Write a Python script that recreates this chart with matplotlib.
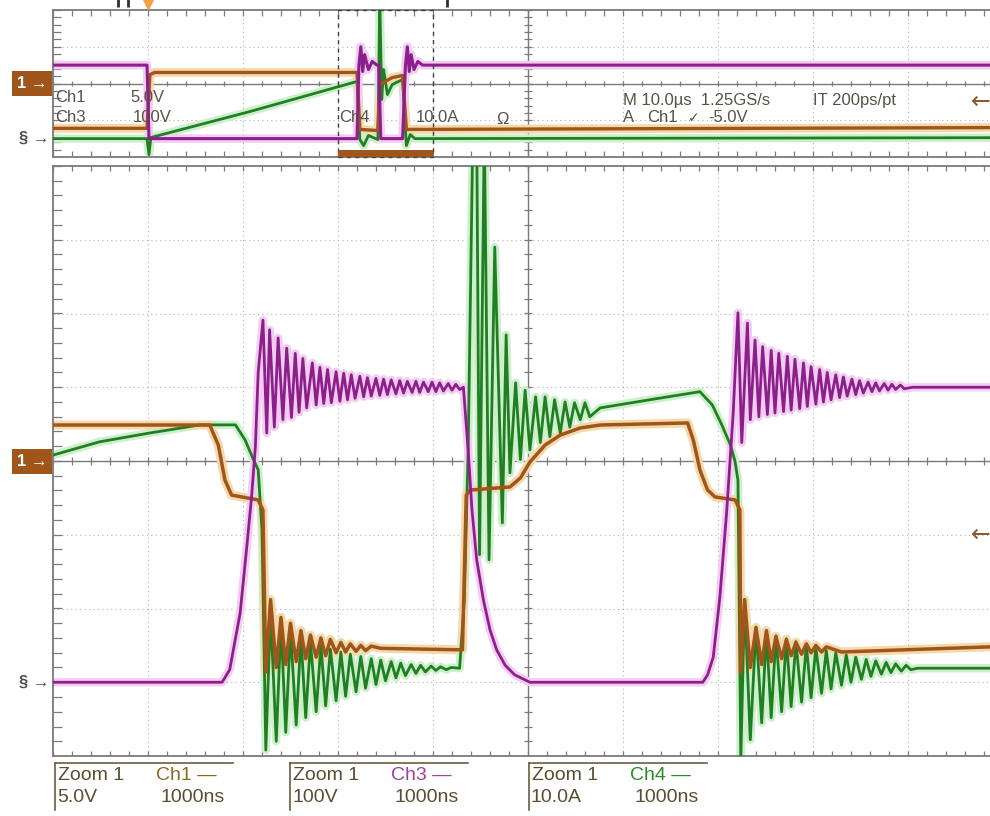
import matplotlib
matplotlib.use("Agg")
import matplotlib.pyplot as plt
import matplotlib.transforms as mtransforms
from matplotlib.lines import Line2D
from matplotlib.patches import Rectangle
import numpy as np

plt.rcParams['font.family'] = ['Liberation Sans', 'DejaVu Sans']

# scope settings
ch1_vdiv, ch3_vdiv, ch4_adiv = 5.0, 100.0, 10.0   # per division
ch1_gnd, ch3_gnd, ch4_gnd = 0.0, -3.0, -3.0       # ground marker (div)
trig_level = -5.0                                 # V on Ch1
trig_time = 10.0                                  # us, overview
zoom_from, zoom_to = 30.0, 40.0                   # us, zoomed span
main_tdiv, ov_tdiv = 1.0, 10.0                    # us/div
top_marks_t = [6.8, 7.9, 41.5]                    # small cursor marks above overview

# ---- zoom window, time in us ----
# Ch1 gate (V)
ch1_t = [0.00, 1.65, 1.74, 1.81, 1.88, 2.16, 2.21,
         2.24, 2.29, 2.35, 2.40, 2.45, 2.50, 2.56, 2.61, 2.66, 2.71, 2.77, 2.82,
         2.87, 2.92, 2.98, 3.03, 3.08, 3.13, 3.19, 3.24, 3.29, 3.35, 3.45,
         4.28, 4.31, 4.35, 4.39, 4.81, 4.92, 5.02, 5.18, 5.34, 5.55, 5.76, 6.68,
         6.74, 6.81, 6.89, 6.97, 7.18, 7.23,
         7.24, 7.28, 7.34, 7.40, 7.46, 7.51, 7.56, 7.61, 7.67, 7.72, 7.77, 7.82,
         7.88, 7.93, 7.98, 8.03, 8.09, 8.14, 8.30, 9.86]
ch1_v = [2.44, 2.44, 1.08, -1.29, -2.31, -2.64, -3.32,
         -14.3, -9.4, -14.0, -10.6, -13.8, -11.0, -13.6, -11.5, -13.4, -11.8, -13.3, -12.0,
         -13.2, -12.1, -13.0, -12.3, -12.95, -12.4, -12.9, -12.5, -12.85, -12.55, -12.7,
         -12.8, -12.8, -2.3, -1.97, -1.76, -1.15, -0.07, 1.08, 1.76, 2.24, 2.44, 2.58,
         1.42, -0.61, -1.97, -2.44, -2.64, -3.32,
         -14.3, -9.4, -14.0, -11.3, -13.8, -11.5, -13.6, -11.9, -13.4, -12.1, -13.2, -12.3,
         -13.1, -12.4, -13.0, -12.5, -12.95, -12.6, -12.95, -12.6]

# Ch3 drain voltage (V)
ch3_t = [0.00, 1.78, 1.86, 1.97, 2.04, 2.09, 2.13, 2.16,
         2.21, 2.25, 2.28, 2.33, 2.37, 2.42, 2.46, 2.51, 2.55, 2.59, 2.63, 2.67,
         2.73, 2.77, 2.81, 2.85, 2.89, 2.93, 2.98, 3.02, 3.06, 3.10, 3.14, 3.18,
         3.23, 3.27, 3.31, 3.35, 3.40, 3.44, 3.48, 3.52, 3.56, 3.61, 3.65, 3.69,
         3.73, 3.78, 3.82, 3.86, 3.90, 3.95, 3.99, 4.03, 4.07, 4.11, 4.16, 4.20,
         4.24, 4.28,
         4.32, 4.37, 4.41, 4.46, 4.53, 4.60, 4.67, 4.76, 4.86, 5.02, 6.84, 6.89,
         6.95, 7.02, 7.09, 7.16, 7.21,
         7.25, 7.31, 7.34, 7.39, 7.43, 7.47, 7.52, 7.56, 7.60, 7.64, 7.69, 7.73,
         7.77, 7.81, 7.86, 7.90, 7.94, 7.98, 8.03, 8.07, 8.11, 8.15, 8.19, 8.24,
         8.28, 8.32, 8.36, 8.41, 8.45, 8.49, 8.53, 8.58, 8.62, 8.66, 8.70, 8.75,
         8.79, 8.83, 8.87, 8.92, 8.96, 9.05, 9.86]
ch3_v = [0, 0, 17, 94, 184, 251, 319, 420,
         491, 338, 478, 346, 467, 356, 453, 359, 446, 366, 439, 372,
         433, 376, 427, 378, 424, 379, 421, 381, 419, 383, 417, 385,
         415, 387, 413, 388, 412, 389, 411, 390, 410, 391, 409, 392,
         408, 393, 408, 393, 407, 394, 407, 394, 406, 395, 405, 396,
         404, 397,
         400, 315, 234, 166, 112, 71, 44, 23, 10, 0, 0, 10,
         34, 116, 229, 365, 501,
         325, 487, 356, 464, 360, 455, 363, 450, 365, 446, 367, 442,
         369, 438, 371, 433, 374, 428, 377, 424, 380, 420, 383, 417,
         386, 414, 388, 411, 390, 409, 392, 407, 394, 406, 395, 405,
         396, 404, 397, 403, 398, 400, 400]

# Ch4 current (A)
ch4_t = [0.00, 0.49, 1.02, 1.55, 1.92, 2.02, 2.11, 2.16, 2.20,
         2.24, 2.29, 2.35, 2.40, 2.45, 2.50, 2.56, 2.61, 2.66, 2.71, 2.77, 2.82,
         2.87, 2.92, 2.98, 3.03, 3.08, 3.13, 3.19, 3.24, 3.29, 3.35, 3.40, 3.45,
         3.50, 3.56, 3.61, 3.66, 3.71, 3.77, 3.82, 3.87, 3.92, 3.98, 4.03, 4.08,
         4.14, 4.19, 4.28,
         4.33, 4.37, 4.42, 4.46, 4.49, 4.54, 4.59, 4.65, 4.73, 4.77, 4.81, 4.87,
         4.92, 4.97, 5.02, 5.08, 5.13, 5.18, 5.23, 5.28, 5.34, 5.39, 5.44, 5.49,
         5.55, 5.60, 5.65, 5.76, 6.28, 6.81, 6.94, 7.04, 7.13, 7.18, 7.21,
         7.24, 7.28, 7.34, 7.40, 7.46, 7.51, 7.56, 7.61, 7.67, 7.72, 7.77, 7.82,
         7.88, 7.93, 7.98, 8.03, 8.09, 8.14, 8.19, 8.24, 8.30, 8.35, 8.40, 8.45,
         8.51, 8.56, 8.61, 8.66, 8.72, 8.77, 8.82, 8.87, 8.93, 8.98, 9.03, 9.10,
         9.86]
ch4_a = [30.8, 32.6, 33.8, 34.9, 34.9, 32.9, 30.2, 28.8, 20.6,
         -9.2, 9.5, -8.0, 8.0, -6.8, 7.0, -5.8, 6.2, -4.8, 5.5, -4.0, 5.0,
         -3.2, 4.5, -2.5, 4.1, -1.9, 3.8, -1.3, 3.5, -0.8, 3.2, -0.3, 3.0,
         0.2, 2.8, 0.6, 2.6, 0.9, 2.4, 1.2, 2.3, 1.4, 2.2, 1.6, 2.1,
         1.7, 2.0, 1.9,
         11.2, 31.5, 75, 75, 17.3, 75, 16.6, 59.0, 21.6, 47.1, 28.4, 40.6,
         30.2, 39.6, 31.5, 38.7, 32.5, 38.7, 33.3, 38.3, 33.8, 38.0, 34.6, 37.9,
         35.6, 37.9, 36.0, 37.2, 38.3, 39.4, 37.6, 34.9, 32.2, 29.9, 27.4,
         -10.5, 11.2, -7.8, 7.5, -5.5, 6.8, -4.8, 6.3, -4.0, 5.9, -3.3, 5.5,
         -2.7, 5.1, -2.1, 4.7, -1.5, 4.3, -0.9, 4.0, -0.4, 3.7, 0.0, 3.4,
         0.4, 3.1, 0.8, 2.9, 1.1, 2.7, 1.3, 2.5, 1.5, 2.3, 1.7, 1.9,
         1.9]

# ---- overview window, time in us ----
ov_ch1_t = [0.0, 9.9, 10.2, 10.7, 32.0, 32.3, 34.2, 34.4, 34.8, 35.7, 36.8, 37.2, 98.6]
ov_ch1_v = [-12.2, -12.2, 2.4, 3.0, 3.0, -12.5, -12.8, -0.3, 0.3, 1.6, 2.2, -12.5, -12.0]
ov_ch3_t = [0.0, 9.9, 10.1, 32.0, 32.2, 32.4, 32.6, 32.8, 33.2, 33.6, 34.1,
            34.3, 34.5, 36.8, 37.1, 37.3, 37.5, 37.7, 38.0, 38.4, 38.9, 98.6]
ov_ch3_v = [400, 400, 0, 0, 400, 500, 365, 457, 376, 420, 400,
            400, 0, 0, 400, 500, 365, 457, 376, 420, 400, 400]
ov_ch4_t = [0.0, 9.9, 10.1, 10.3, 20.7, 32.0, 32.3, 32.7, 33.2, 34.2,
            34.4, 34.6, 34.8, 35.2, 35.7, 36.8, 37.2, 37.6, 38.1, 98.6]
ov_ch4_a = [0.0, 0.0, -8.7, 0.6, 14.7, 31.1, -0.5, -3.8, 1.7, -0.5,
            76, 21.3, 37.6, 24.0, 29.4, 32.2, -3.8, 2.2, 0.0, 0.5]

C1, C3, C4 = '#a0561a', '#8c1f8c', '#1f7f22'
H1, H3, H4 = '#f3d9ab', '#f3cdf1', '#cdefcb'
GRID = '#b0b0b0'
FRAME = '#7a7a7a'
TXT = '#575248'

W, H = 990, 816
fig = plt.figure(figsize=(W / 100, H / 100), dpi=100)


def box(l, t, r, b):
    return [l / W, 1 - b / H, (r - l) / W, (b - t) / H]


def to_div(vals, per_div, gnd):
    return np.asarray(vals, dtype=float) / per_div + gnd


def graticule(a, tdiv, xmax, hgrid, ystep, hy, hx, edge_x, edge_y):
    a.set_xlim(0, xmax)
    a.set_ylim(-4, 4)
    xc = 5 * tdiv
    for k in range(1, 11):
        if k != 5:
            a.axvline(k * tdiv, color=GRID, lw=0.8, ls=(0, (1, 3)), zorder=1)
    for y in hgrid:
        a.axhline(y, color=GRID, lw=0.8, ls=(0, (1, 3)), zorder=1)
    a.axhline(0, color=FRAME, lw=1.0, zorder=1)
    a.axvline(xc, color=FRAME, lw=1.0, zorder=1)
    xs = np.arange(0, xmax, tdiv / 5)
    ys = np.arange(-4, 4.001, ystep)
    a.vlines(xs, -hy, hy, color=FRAME, lw=0.9, zorder=1)
    a.hlines(ys, xc - hx, xc + hx, color=FRAME, lw=0.9, zorder=1)
    a.hlines(ys, 0, edge_x, color=FRAME, lw=0.9, zorder=1)
    a.vlines(xs, -4, -4 + edge_y, color=FRAME, lw=0.9, zorder=1)
    a.vlines(xs, 4 - edge_y, 4, color=FRAME, lw=0.9, zorder=1)
    a.set_xticks([])
    a.set_yticks([])
    for s in ('left', 'top', 'bottom'):
        a.spines[s].set_color(FRAME)
        a.spines[s].set_linewidth(1.3)
    a.spines['right'].set_visible(False)


def trace(a, t, y, col, halo, lw, z):
    a.plot(t, y, color=halo, lw=lw + 4, solid_joinstyle='round', zorder=2)
    a.plot(t, y, color=col, lw=lw, solid_joinstyle='round', zorder=z)


def markers(a):
    bt = mtransforms.blended_transform_factory(a.transAxes, a.transData)
    a.text(-0.006, ch1_gnd, '1 \u2192', transform=bt, ha='right', va='center',
           color='white', fontsize=12, fontweight='bold',
           bbox=dict(boxstyle='square,pad=0.3', fc=C1, ec='none'))
    a.text(-0.004, ch3_gnd, '\u00a7 \u2192', transform=bt, ha='right', va='center',
           color='#505050', fontsize=12, fontweight='bold')
    a.text(0.99, trig_level / ch1_vdiv, '\u2190', transform=bt, ha='center',
           va='center', color='#8a5a2e', fontsize=17, family=['DejaVu Sans'])


# overview window
ax_ov = fig.add_axes(box(53, 10, 990, 157))
graticule(ax_ov, ov_tdiv, (990 - 53) / 95 * ov_tdiv, [-2, 2], 0.4, 0.16, 0.42, 0.85, 0.3)
trace(ax_ov, ov_ch4_t, to_div(ov_ch4_a, ch4_adiv, ch4_gnd), C4, H4, 2.0, 3)
trace(ax_ov, ov_ch1_t, to_div(ov_ch1_v, ch1_vdiv, ch1_gnd), C1, H1, 2.4, 4)
trace(ax_ov, ov_ch3_t, to_div(ov_ch3_v, ch3_vdiv, ch3_gnd), C3, H3, 2.2, 5)
ax_ov.add_patch(Rectangle((zoom_from, -4), zoom_to - zoom_from, 8, fill=False,
                          ls=(0, (3, 3)), ec='#404040', lw=1.0, zorder=6, clip_on=False))
ax_ov.add_patch(Rectangle((zoom_from, -4), zoom_to - zoom_from, 0.4, fc=C1,
                          ec='none', zorder=6))
tb = mtransforms.blended_transform_factory(ax_ov.transData, ax_ov.transAxes)
ax_ov.plot([trig_time], [1.045], marker='v', ms=9, color='#f5a040',
           transform=tb, clip_on=False, zorder=7)
ax_ov.plot(top_marks_t, [1.05] * len(top_marks_t), ls='none', marker='|', ms=6,
           mew=2, color='#303030', transform=tb, clip_on=False, zorder=7)
markers(ax_ov)

# zoom window
ax = fig.add_axes(box(53, 166, 990, 756))
graticule(ax, main_tdiv, (990 - 53) / 95 * main_tdiv, [-3, -2, -1, 1, 2, 3],
          0.2, 0.055, 0.042, 0.09, 0.07)
trace(ax, ch4_t, to_div(ch4_a, ch4_adiv, ch4_gnd), C4, H4, 2.0, 3)
trace(ax, ch1_t, to_div(ch1_v, ch1_vdiv, ch1_gnd), C1, H1, 2.5, 4)
trace(ax, ch3_t, to_div(ch3_v, ch3_vdiv, ch3_gnd), C3, H3, 2.0, 5)
markers(ax)

# readouts in the overview
def ftext(px, py, s, color=TXT, size=12, **kw):
    fig.text(px / W, 1 - py / H, s, color=color, fontsize=size, va='center', **kw)


ftext(55, 98, 'Ch1')
ftext(130, 98, '5.0V')
ftext(55, 117, 'Ch3')
ftext(133, 117, '100V')
ftext(339, 117, 'Ch4')
ftext(416, 117, '10.0A')
ftext(496, 119, '\u03a9')
ftext(623, 100, 'M 10.0\u00b5s  1.25GS/s')
ftext(813, 100, 'IT 200ps/pt')
ftext(623, 118, 'A')
ftext(647, 118, 'Ch1')
ftext(688, 118, '\u2713', family=['DejaVu Sans'], size=10)
ftext(708, 118, '-5.0V')

# zoom readouts at the bottom
BOXC = '#6a5d3e'
zoom_labels = [('Ch1 \u2014', '5.0V', '#8b6a24', 55),
               ('Ch3 \u2014', '100V', '#a040a0', 290),
               ('Ch4 \u2014', '10.0A', '#2a8a2a', 529)]
for ch, scale, col, x0 in zoom_labels:
    fig.add_artist(Line2D([x0 / W, (x0 + 178) / W], [1 - 763 / H] * 2,
                          color=BOXC, lw=1.2))
    fig.add_artist(Line2D([x0 / W] * 2, [1 - 763 / H, 1 - 810 / H],
                          color=BOXC, lw=1.2))
    ftext(x0 + 3, 776, 'Zoom 1', color='#5a4e2e', size=14)
    ftext(x0 + 101, 776, ch, color=col, size=14)
    ftext(x0 + 2, 798, scale, color='#5a4e2e', size=14)
    ftext(x0 + 105, 798, '1000ns', color='#5a4e2e', size=14)

fig.savefig('out.png', dpi=100)
